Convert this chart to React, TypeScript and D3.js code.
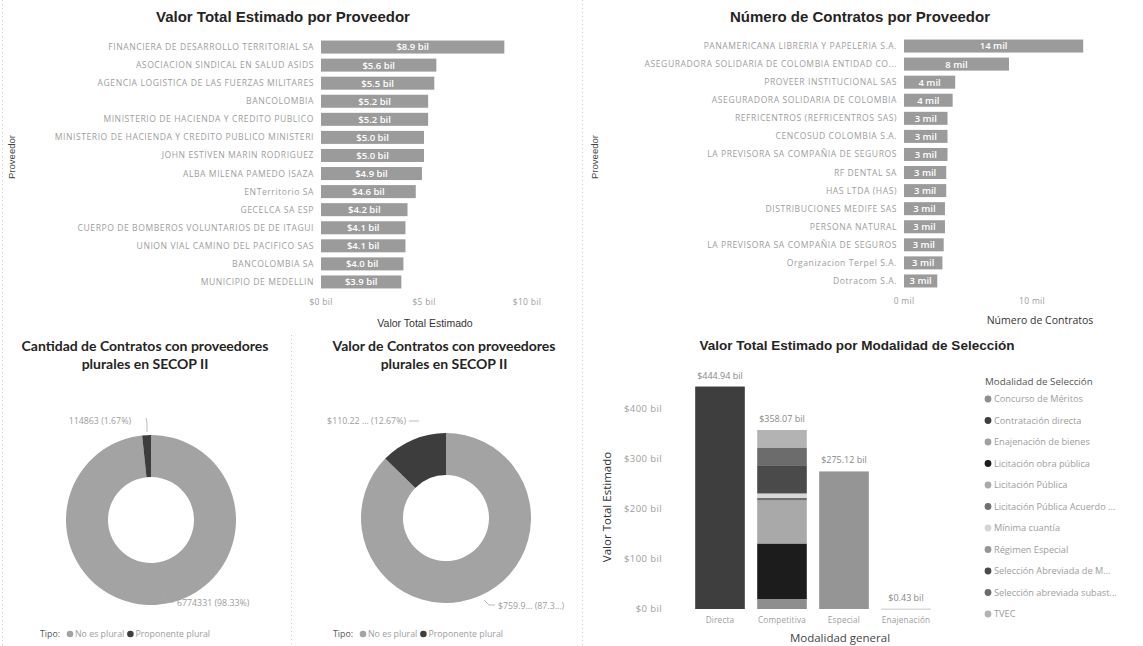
import React from 'react';
import * as d3 from 'd3';

// Valor Total Estimado por Proveedor (billones)
const valorProveedores = [
  'FINANCIERA DE DESARROLLO TERRITORIAL SA',
  'ASOCIACION SINDICAL EN SALUD ASIDS',
  'AGENCIA LOGISTICA DE LAS FUERZAS MILITARES',
  'BANCOLOMBIA',
  'MINISTERIO DE HACIENDA Y CREDITO PUBLICO',
  'MINISTERIO DE HACIENDA Y CREDITO PUBLICO MINISTERI',
  'JOHN ESTIVEN MARIN RODRIGUEZ',
  'ALBA MILENA PAMEDO ISAZA',
  'ENTerritorio SA',
  'GECELCA SA ESP',
  'CUERPO DE BOMBEROS VOLUNTARIOS DE DE ITAGUI',
  'UNION VIAL CAMINO DEL PACIFICO SAS',
  'BANCOLOMBIA SA',
  'MUNICIPIO DE MEDELLIN',
];
const valorTotales = [8.9, 5.6, 5.5, 5.2, 5.2, 5.0, 5.0, 4.9, 4.6, 4.2, 4.1, 4.1, 4.0, 3.9];
const valorTicks = [0, 5, 10];

// Número de Contratos por Proveedor (miles)
const contratoProveedores = [
  'PANAMERICANA LIBRERIA Y PAPELERIA S.A.',
  'ASEGURADORA SOLIDARIA DE COLOMBIA ENTIDAD CO...',
  'PROVEER INSTITUCIONAL SAS',
  'ASEGURADORA SOLIDARIA DE COLOMBIA',
  'REFRICENTROS (REFRICENTROS SAS)',
  'CENCOSUD COLOMBIA S.A.',
  'LA PREVISORA SA COMPAÑIA DE SEGUROS',
  'RF DENTAL SA',
  'HAS LTDA (HAS)',
  'DISTRIBUCIONES MEDIFE SAS',
  'PERSONA NATURAL',
  'LA PREVISORA SA COMPAÑIA DE SEGUROS ',
  'Organizacion Terpel S.A.',
  'Dotracom S.A.',
];
const contratoTotales = [14.0, 8.2, 4.0, 3.8, 3.4, 3.4, 3.4, 3.3, 3.3, 3.2, 3.2, 3.1, 3.0, 2.6];
const contratoTicks = [0, 10];

// Donuts
const tipos = ['No es plural', 'Proponente plural'];
const cantidadTipo = [6774331, 114863];
const cantidadLabels = ['6774331 (98.33%)', '114863 (1.67%)'];
const valorTipo = [759.9, 110.22];
const valorTipoLabels = ['$759.9... (87.3...)', '$110.22 ... (12.67%)'];

// Valor Total Estimado por Modalidad de Selección (billones)
const modalidadesGenerales = ['Directa', 'Competitiva', 'Especial', 'Enajenación'];
const modalidades = [
  'Concurso de Méritos',
  'Contratación directa',
  'Enajenación de bienes',
  'Licitación obra pública',
  'Licitación Pública',
  'Licitación Pública Acuerdo ...',
  'Mínima cuantía',
  'Régimen Especial',
  'Selección Abreviada de M...',
  'Selección abreviada subast...',
  'TVEC',
];
const directaValores = [0, 444.94, 0, 0, 0, 0, 0, 0, 0, 0, 0];
const competitivaValores = [20, 0, 0, 111.07, 86, 5, 9, 0, 55, 37, 35];
const especialValores = [0, 0, 0, 0, 0, 0, 0, 275.12, 0, 0, 0];
const enajenacionValores = [0, 0, 0.43, 0, 0, 0, 0, 0, 0, 0, 0];
const modalidadTicks = [0, 100, 200, 300, 400];

const modalidadColors = [
  '#8e8e8e', '#3e3e3e', '#a0a0a0', '#1c1c1c', '#a9a9a9', '#707070',
  '#d6d6d6', '#959595', '#4a4a4a', '#6c6c6c', '#b3b3b3',
];

const FONT = '"Open Sans", "Liberation Sans", sans-serif';
const TITLE_FONT = '"Liberation Sans", Arial, sans-serif';
const BAR = '#9b9b9b';
const LABEL = '#9d9d9d';
const TITLE = '#252423';

interface HBarProps {
  names: string[];
  values: number[];
  ticks: number[];
  range: [number, number];
  yRange: [number, number];
  fmt: (v: number) => string;
  tickFmt: (v: number) => string;
}

const HBars: React.FC<HBarProps> = ({ names, values, ticks, range, yRange, fmt, tickFmt }) => {
  const x = d3.scaleLinear().domain([0, 10]).range(range);
  const y = d3.scaleBand().domain(names).range(yRange).paddingInner(0.28).paddingOuter(0.14);
  return (
    <g>
      {names.map((n, i) => (
        <g key={n + i}>
          <text x={x(0) - 7} y={y(n)! + y.bandwidth() / 2} dy="0.35em" textAnchor="end"
            fontSize={8.6} letterSpacing={0.55} fill={LABEL} fontFamily={FONT}>{n}</text>
          <rect x={x(0)} y={y(n)} width={x(values[i]) - x(0)} height={y.bandwidth()} fill={BAR} />
          <text x={(x(0) + x(values[i])) / 2} y={y(n)! + y.bandwidth() / 2} dy="0.36em" textAnchor="middle"
            fontSize={9.5} fill="#fff" fontFamily={FONT} fontWeight={600}>{fmt(values[i])}</text>
        </g>
      ))}
      {ticks.map(t => (
        <text key={t} x={x(t)} y={yRange[1] + 14} textAnchor="middle" fontSize={8.5}
          letterSpacing={0.3} fill={LABEL} fontFamily={FONT}>{tickFmt(t)}</text>
      ))}
    </g>
  );
};

interface DonutProps {
  cx: number;
  cy: number;
  values: number[];
}

const Donut: React.FC<DonutProps> = ({ cx, cy, values }) => {
  const pie = d3.pie<number>().sort(null).value(d => d);
  const arc = d3.arc<d3.PieArcDatum<number>>().innerRadius(43).outerRadius(85);
  const colors = ['#a3a3a3', '#3d3d3d'];
  return (
    <g transform={`translate(${cx},${cy})`}>
      {pie(values).map((s, i) => (
        <path key={i} d={arc(s)!} fill={colors[i]} />
      ))}
    </g>
  );
};

const TipoLegend: React.FC<{ x: number; y: number }> = ({ x, y }) => {
  const colors = ['#a3a3a3', '#3d3d3d'];
  let cursor = x + 27;
  return (
    <g fontFamily={FONT} fontSize={8.8}>
      <text x={x} y={y} dy="0.35em" fill="#555">Tipo:</text>
      {tipos.map((t, i) => {
        const cxm = cursor + 3;
        const tx = cursor + 8;
        cursor += 8 + t.length * 4.2 + 2;
        return (
          <g key={t}>
            <circle cx={cxm} cy={y} r={3.3} fill={colors[i]} />
            <text x={tx} y={y} dy="0.35em" fill={LABEL}>{t}</text>
          </g>
        );
      })}
    </g>
  );
};

const App: React.FC = () => {
  // stacked modalidad chart
  const rows = modalidadesGenerales.map((g, gi) => {
    const src = [directaValores, competitivaValores, especialValores, enajenacionValores][gi];
    const row: Record<string, number | string> = { general: g };
    modalidades.forEach((m, mi) => { row[m] = src[mi]; });
    return row;
  });
  const totals = [directaValores, competitivaValores, especialValores, enajenacionValores]
    .map(a => d3.sum(a));
  const stack = d3.stack<Record<string, number | string>>().keys(modalidades)
    .value((d, k) => d[k] as number);
  const series = stack(rows);
  const bx = d3.scaleBand().domain(modalidadesGenerales).range([689, 937])
    .paddingInner(0.2).paddingOuter(0.1);
  const by = d3.scaleLinear().domain([0, 400]).range([609, 409]);

  return (
    <svg width={1143} height={646} style={{ position: 'absolute', left: 0, top: 0, background: '#fff' }}>
      {/* separators */}
      <line x1={2.5} x2={2.5} y1={0} y2={646} stroke="#ccc" strokeDasharray="1 3" />
      <line x1={582.5} x2={582.5} y1={0} y2={646} stroke="#ccc" strokeDasharray="1 3" />
      <line x1={291.5} x2={291.5} y1={335} y2={646} stroke="#ccc" strokeDasharray="1 3" />

      {/* Top left */}
      <text x={283} y={22} textAnchor="middle" fontSize={15} fontWeight="bold" fill={TITLE}
        fontFamily={TITLE_FONT}>Valor Total Estimado por Proveedor</text>
      <HBars names={valorProveedores} values={valorTotales} ticks={valorTicks}
        range={[321, 527]} yRange={[38, 291]}
        fmt={v => `$${v.toFixed(1)} bil`} tickFmt={t => `$${t} bil`} />
      <text x={425} y={327} textAnchor="middle" fontSize={10.5} fill="#333"
        fontFamily={TITLE_FONT}>Valor Total Estimado</text>
      <text transform="translate(15,157) rotate(-90)" textAnchor="middle" fontSize={9.5} fill="#444"
        fontFamily={TITLE_FONT}>Proveedor</text>

      {/* Top right */}
      <text x={860} y={22} textAnchor="middle" fontSize={15} fontWeight="bold" fill={TITLE}
        fontFamily={TITLE_FONT}>Número de Contratos por Proveedor</text>
      <HBars names={contratoProveedores} values={contratoTotales} ticks={contratoTicks}
        range={[904, 1032]} yRange={[37, 290]}
        fmt={v => `${Math.round(v)} mil`} tickFmt={t => `${t} mil`} />
      <text x={1040} y={324} textAnchor="middle" fontSize={10.5} fill="#333"
        fontFamily={FONT}>Número de Contratos</text>
      <text transform="translate(598,157) rotate(-90)" textAnchor="middle" fontSize={9.5} fill="#444"
        fontFamily={TITLE_FONT}>Proveedor</text>

      {/* Donut 1 */}
      <text textAnchor="middle" fontSize={14} fontWeight="bold" fill={TITLE} fontFamily='"Lato", sans-serif'>
        <tspan x={145} y={351}>Cantidad de Contratos con proveedores</tspan>
        <tspan x={145} y={369}>plurales en SECOP II</tspan>
      </text>
      <Donut cx={151} cy={520} values={cantidadTipo} />
      <text x={131} y={421} dy="0.35em" textAnchor="end" fontSize={8.8} fill={LABEL}
        fontFamily={FONT}>{cantidadLabels[1]}</text>
      <polyline points="146,418 147,423 147,432" fill="none" stroke="#aaa" strokeWidth={0.8} />
      <text x={177} y={603} dy="0.35em" fontSize={8.8} fill={LABEL}
        fontFamily={FONT}>{cantidadLabels[0]}</text>
      <polyline points="163,596 168,602 174,602" fill="none" stroke="#aaa" strokeWidth={0.8} />
      <TipoLegend x={40} y={634} />

      {/* Donut 2 */}
      <text textAnchor="middle" fontSize={14} fontWeight="bold" fill={TITLE} fontFamily='"Lato", sans-serif'>
        <tspan x={444} y={351}>Valor de Contratos con proveedores</tspan>
        <tspan x={444} y={369}>plurales en SECOP II</tspan>
      </text>
      <Donut cx={446} cy={518} values={valorTipo} />
      <text x={406} y={421} dy="0.35em" textAnchor="end" fontSize={8.8} fill={LABEL}
        fontFamily={FONT}>{valorTipoLabels[1]}</text>
      <line x1={409} x2={419} y1={421} y2={421} stroke="#aaa" strokeWidth={0.8} />
      <text x={498} y={606} dy="0.35em" fontSize={8.8} fill={LABEL}
        fontFamily={FONT}>{valorTipoLabels[0]}</text>
      <polyline points="484,600 489,605 495,605" fill="none" stroke="#aaa" strokeWidth={0.8} />
      <TipoLegend x={333} y={634} />

      {/* Bottom right */}
      <text x={857} y={350} textAnchor="middle" fontSize={13.5} fontWeight="bold" fill={TITLE}
        fontFamily={TITLE_FONT}>Valor Total Estimado por Modalidad de Selección</text>
      {modalidadTicks.map(t => (
        <text key={t} x={662} y={by(t)} dy="0.35em" textAnchor="end" fontSize={9.5}
          letterSpacing={0.4} fill={LABEL} fontFamily={FONT}>{`$${t} bil`}</text>
      ))}
      {series.map((s, si) => (
        <g key={s.key} fill={modalidadColors[si]}>
          {s.map((d, di) => (
            d[1] - d[0] > 0 ? (
              <rect key={di} x={bx(modalidadesGenerales[di])} width={bx.bandwidth()}
                y={by(d[1])} height={Math.max(by(d[0]) - by(d[1]), 0.6)} />
            ) : null
          ))}
        </g>
      ))}
      {modalidadesGenerales.map((g, gi) => (
        <g key={g}>
          <text x={bx(g)! + bx.bandwidth() / 2} y={by(totals[gi]) - 8} textAnchor="middle"
            fontSize={9} fill="#888" fontFamily={FONT}>{`$${totals[gi].toFixed(2)} bil`}</text>
          <text x={bx(g)! + bx.bandwidth() / 2} y={623} textAnchor="middle"
            fontSize={8.2} letterSpacing={0.2} fill={LABEL} fontFamily={FONT}>{g}</text>
        </g>
      ))}
      <text x={840} y={642} textAnchor="middle" fontSize={11.5} fill="#444"
        fontFamily={FONT}>Modalidad general</text>
      <text transform="translate(611,507) rotate(-90)" textAnchor="middle" fontSize={11.5} fill="#333"
        fontFamily={FONT}>Valor Total Estimado</text>

      {/* legend */}
      <text x={985} y={382} dy="0.35em" fontSize={9.8} fill="#555" fontFamily={FONT}>Modalidad de Selección</text>
      {modalidades.map((m, i) => (
        <g key={m}>
          <circle cx={988} cy={399 + i * 21.5} r={3.4} fill={modalidadColors[i]} />
          <text x={994} y={399 + i * 21.5} dy="0.35em" fontSize={9.2} fill={LABEL}
            fontFamily={FONT}>{m}</text>
        </g>
      ))}
    </svg>
  );
};

export default App;
